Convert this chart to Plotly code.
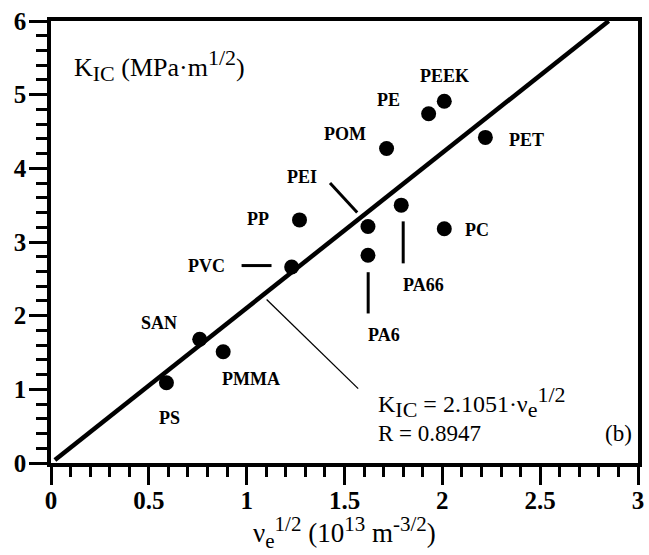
import plotly.graph_objects as go

# ---- data ----
materials = ["PS", "SAN", "PMMA", "PVC", "PP", "PEI", "PA6", "PA66",
             "POM", "PC", "PE", "PEEK", "PET"]
nu_sqrt = [0.59, 0.76, 0.88, 1.23, 1.27, 1.62, 1.62, 1.79,
           1.715, 2.01, 1.93, 2.01, 2.22]
kic = [1.09, 1.68, 1.51, 2.66, 3.30, 3.21, 2.82, 3.50,
       4.27, 3.18, 4.74, 4.91, 4.42]
slope = 2.1051
r_value = 0.8947

x_ticks = [0, 0.5, 1, 1.5, 2, 2.5, 3]
x_tick_labels = ["0", "0.5", "1", "1.5", "2", "2.5", "3"]
y_ticks = [0, 1, 2, 3, 4, 5, 6]
y_tick_labels = ["0", "1", "2", "3", "4", "5", "6"]

# label positions (data coords)
label_x = [0.605, 0.553, 1.02, 0.795, 1.059, 1.281, 1.70, 1.903,
           1.502, 2.175, 1.724, 2.013, 2.431]
label_y = [0.61, 1.90, 1.14, 2.68, 3.31, 3.88, 1.74, 2.42,
           4.47, 3.16, 4.93, 5.26, 4.38]

# leader lines: (x0, y0, x1, y1, width)
leaders = [
    (0.974, 2.68, 1.127, 2.68, 3),   # PVC
    (1.426, 3.80, 1.565, 3.40, 3),   # PEI
    (1.621, 2.59, 1.621, 2.03, 3),   # PA6
    (1.800, 3.28, 1.800, 2.71, 3),   # PA66
    (1.102, 2.22, 1.570, 1.01, 1.3),  # equation pointer
]

FONT = "Liberation Serif"
ymax = 6.0


def sm(s, px):
    return f'<span style="font-size:{px}px">{s}</span>'


fig = go.Figure()

# regression line
fig.add_trace(go.Scatter(
    x=[0.02, ymax / slope], y=[slope * 0.02, ymax],
    mode="lines", line=dict(color="black", width=4.5),
    hoverinfo="skip", showlegend=False))

# data points
fig.add_trace(go.Scatter(
    x=nu_sqrt, y=kic, mode="markers",
    marker=dict(color="black", size=15, line=dict(width=0)),
    text=materials, showlegend=False))

# point labels
for name, lx, ly in zip(materials, label_x, label_y):
    fig.add_annotation(x=lx, y=ly, text=name, showarrow=False,
                       font=dict(family=FONT, size=18, color="black",
                                 weight="bold"),
                       xanchor="center", yanchor="middle")

for x0, y0, x1, y1, w in leaders:
    fig.add_shape(type="line", x0=x0, y0=y0, x1=x1, y1=y1,
                  xref="x", yref="y", line=dict(color="black", width=w))

# K_IC axis label inside the plot
fig.add_annotation(x=0.105, y=5.39, xanchor="left", yanchor="middle",
                   text=f"K<sub>{sm('IC', 22)}</sub> (MPa·m<sup>{sm('1/2', 22)}</sup>)",
                   showarrow=False,
                   font=dict(family=FONT, size=26, color="black"))

# equation text
fig.add_annotation(x=1.66, y=0.83, xanchor="left", yanchor="middle",
                   text=f"K<sub>{sm('IC', 22)}</sub> = {slope:.4f}·ν<sub>{sm('e', 22)}</sub><sup>{sm('1/2', 22)}</sup>",
                   showarrow=False,
                   font=dict(family=FONT, size=24, color="black"))
fig.add_annotation(x=1.66, y=0.40, xanchor="left", yanchor="middle",
                   text=f"R = {r_value:.4f}", showarrow=False,
                   font=dict(family=FONT, size=23, color="black"))
fig.add_annotation(x=2.98, y=0.40, xanchor="right", yanchor="middle",
                   text="(b)", showarrow=False,
                   font=dict(family=FONT, size=23, color="black"))

# x-axis title (placed as annotation below the tick labels)
fig.add_annotation(x=0.5, y=-0.208, xref="paper", yref="paper",
                   xanchor="center", yanchor="bottom", showarrow=False,
                   text=f"ν<sub>{sm('e', 21)}</sub><sup>{sm('1/2', 21)}</sup> (10<sup>{sm('13', 21)}</sup> m<sup>{sm('-3/2', 21)}</sup>)",
                   font=dict(family=FONT, size=27, color="black"))

axis_common = dict(
    showline=True, linecolor="black", linewidth=3.5, mirror=True,
    ticks="outside", tickcolor="black", tickwidth=3, ticklen=18,
    showgrid=False, zeroline=False,
    tickfont=dict(family=FONT, size=25, color="black", weight="bold"),
)

fig.update_xaxes(range=[0, 3], tickvals=x_ticks, ticktext=x_tick_labels,
                 ticklabelstandoff=-6,
                 minor=dict(dtick=0.1, ticks="outside", ticklen=10,
                            tickwidth=3, tickcolor="black", showgrid=False),
                 **axis_common)
fig.update_yaxes(range=[0, 6], tickvals=y_ticks, ticktext=y_tick_labels,
                 ticklabelstandoff=-2,
                 minor=dict(dtick=0.2, ticks="outside", ticklen=11,
                            tickwidth=3, tickcolor="black", showgrid=False),
                 **axis_common)

fig.update_layout(
    width=649, height=555,
    margin=dict(l=51, r=11, t=21, b=92, autoexpand=False),
    plot_bgcolor="white", paper_bgcolor="white",
    showlegend=False,
)

fig.write_html("out.html")
